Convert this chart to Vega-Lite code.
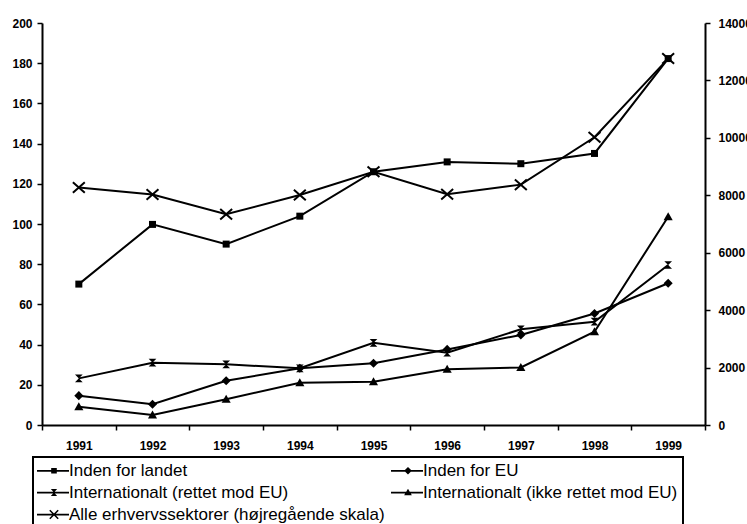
{
  "$schema": "https://vega.github.io/schema/vega-lite/v6.json",
  "width": 663,
  "height": 402,
  "autosize": {"type": "none"},
  "padding": {"left": 42, "top": 23, "right": 42, "bottom": 99},
  "background": "white",
  "config": {"view": {"stroke": null}, "font": "Liberation Sans", "legend": {"strokeWidth": 2}},
  "data": {"values": [
    {"year": "1991", "series": "Inden for landet", "value": 70.1},
    {"year": "1992", "series": "Inden for landet", "value": 99.8},
    {"year": "1993", "series": "Inden for landet", "value": 90.0},
    {"year": "1994", "series": "Inden for landet", "value": 103.9},
    {"year": "1995", "series": "Inden for landet", "value": 126.0},
    {"year": "1996", "series": "Inden for landet", "value": 130.9},
    {"year": "1997", "series": "Inden for landet", "value": 130.0},
    {"year": "1998", "series": "Inden for landet", "value": 135.1},
    {"year": "1999", "series": "Inden for landet", "value": 182.3},
    {"year": "1991", "series": "Inden for EU", "value": 14.6},
    {"year": "1992", "series": "Inden for EU", "value": 10.3},
    {"year": "1993", "series": "Inden for EU", "value": 22.0},
    {"year": "1994", "series": "Inden for EU", "value": 28.2},
    {"year": "1995", "series": "Inden for EU", "value": 30.7},
    {"year": "1996", "series": "Inden for EU", "value": 37.6},
    {"year": "1997", "series": "Inden for EU", "value": 44.8},
    {"year": "1998", "series": "Inden for EU", "value": 55.5},
    {"year": "1999", "series": "Inden for EU", "value": 70.5},
    {"year": "1991", "series": "Internationalt (rettet mod EU)", "value": 23.2},
    {"year": "1992", "series": "Internationalt (rettet mod EU)", "value": 31.0},
    {"year": "1993", "series": "Internationalt (rettet mod EU)", "value": 30.2},
    {"year": "1994", "series": "Internationalt (rettet mod EU)", "value": 28.2},
    {"year": "1995", "series": "Internationalt (rettet mod EU)", "value": 40.9},
    {"year": "1996", "series": "Internationalt (rettet mod EU)", "value": 36.0},
    {"year": "1997", "series": "Internationalt (rettet mod EU)", "value": 47.6},
    {"year": "1998", "series": "Internationalt (rettet mod EU)", "value": 51.4},
    {"year": "1999", "series": "Internationalt (rettet mod EU)", "value": 79.6},
    {"year": "1991", "series": "Internationalt (ikke rettet mod EU)", "value": 9.1},
    {"year": "1992", "series": "Internationalt (ikke rettet mod EU)", "value": 5.0},
    {"year": "1993", "series": "Internationalt (ikke rettet mod EU)", "value": 12.8},
    {"year": "1994", "series": "Internationalt (ikke rettet mod EU)", "value": 21.0},
    {"year": "1995", "series": "Internationalt (ikke rettet mod EU)", "value": 21.5},
    {"year": "1996", "series": "Internationalt (ikke rettet mod EU)", "value": 27.7},
    {"year": "1997", "series": "Internationalt (ikke rettet mod EU)", "value": 28.6},
    {"year": "1998", "series": "Internationalt (ikke rettet mod EU)", "value": 46.4},
    {"year": "1999", "series": "Internationalt (ikke rettet mod EU)", "value": 103.6},
    {"year": "1991", "series": "Alle erhvervssektorer (højregående skala)", "value": 8270},
    {"year": "1992", "series": "Alle erhvervssektorer (højregående skala)", "value": 8030},
    {"year": "1993", "series": "Alle erhvervssektorer (højregående skala)", "value": 7340},
    {"year": "1994", "series": "Alle erhvervssektorer (højregående skala)", "value": 8010},
    {"year": "1995", "series": "Alle erhvervssektorer (højregående skala)", "value": 8820},
    {"year": "1996", "series": "Alle erhvervssektorer (højregående skala)", "value": 8040},
    {"year": "1997", "series": "Alle erhvervssektorer (højregående skala)", "value": 8370},
    {"year": "1998", "series": "Alle erhvervssektorer (højregående skala)", "value": 10020},
    {"year": "1999", "series": "Alle erhvervssektorer (højregående skala)", "value": 12760}
  ]},
  "encoding": {
    "x": {
      "field": "year", "type": "ordinal", "bandPosition": 0.5,
      "scale": {"type": "band", "paddingInner": 0, "paddingOuter": 0},
      "axis": {"title": null, "tickBand": "extent", "labelAngle": 0, "domainColor": "black", "domainWidth": 2, "tickColor": "black", "tickWidth": 1.5, "tickSize": 5, "labelFont": "Liberation Sans", "labelFontSize": 12, "labelFontWeight": "bold", "labelColor": "black", "labelPadding": 10}
    }
  },
  "layer": [
    {
      "transform": [{"filter": "datum.series !== 'Alle erhvervssektorer (højregående skala)'"}],
      "encoding": {
        "y": {"field": "value", "type": "quantitative", "scale": {"domain": [0, 200], "nice": false},
          "axis": {"orient": "left", "title": null, "values": [0, 20, 40, 60, 80, 100, 120, 140, 160, 180, 200], "grid": false, "domainColor": "black", "domainWidth": 2, "tickColor": "black", "tickWidth": 1.5, "tickSize": 5, "labelFont": "Liberation Sans", "labelFontSize": 12, "labelFontWeight": "bold", "labelColor": "black", "labelPadding": 5, "labelFlush": false, "labelOverlap": false}}
      },
      "layer": [
        {"mark": {"type": "line", "color": "black", "strokeWidth": 2}, "encoding": {"detail": {"field": "series", "type": "nominal"}}},
        {"mark": {"type": "point", "filled": true, "color": "black", "opacity": 1, "size": 49, "strokeWidth": 1},
          "encoding": {"shape": {"field": "series", "type": "nominal",
            "scale": {"domain": ["Inden for landet", "Inden for EU", "Internationalt (rettet mod EU)", "Internationalt (ikke rettet mod EU)"],
              "range": ["M-1,-1L1,-1L1,1L-1,1Z", "M0,-1.3L1.3,0L0,1.3L-1.3,0Z", "M-1.1,-1.1L1.1,-1.1L-1.1,1.1L1.1,1.1Z", "M0,-1.3L1.3,1L-1.3,1Z"]},
            "legend": null}}}
      ]
    },
    {
      "transform": [{"filter": "datum.series === 'Alle erhvervssektorer (højregående skala)'"}],
      "encoding": {
        "y": {"field": "value", "type": "quantitative", "scale": {"domain": [0, 14000], "nice": false},
          "axis": {"orient": "right", "title": null, "values": [0, 2000, 4000, 6000, 8000, 10000, 12000, 14000], "format": "d", "grid": false, "domainColor": "black", "domainWidth": 2, "tickColor": "black", "tickWidth": 1.5, "tickSize": 5, "labelFont": "Liberation Sans", "labelFontSize": 12, "labelFontWeight": "bold", "labelColor": "black", "labelPadding": 8, "labelFlush": false, "labelOverlap": false}}
      },
      "layer": [
        {"mark": {"type": "line", "color": "black", "strokeWidth": 2}, "encoding": {}},
        {"mark": {"type": "point", "filled": false, "color": "black", "opacity": 1, "size": 49, "strokeWidth": 2, "shape": "M-1.7,-1.5L1.7,1.5M1.7,-1.5L-1.7,1.5"}, "encoding": {}}
      ]
    },
    {
      "mark": {"type": "point", "filled": true, "color": "black", "opacity": 0},
      "encoding": {
        "shape": {"field": "series", "type": "nominal",
          "scale": {"domain": ["Inden for landet", "Internationalt (rettet mod EU)", "Alle erhvervssektorer (højregående skala)", "Inden for EU", "Internationalt (ikke rettet mod EU)"],
            "range": [
              "M-2.71,-0.25L6.43,-0.25L6.43,0.25L-2.71,0.25ZM1.34,-0.8L2.94,-0.8L2.94,0.8L1.34,0.8Z",
              "M-2.71,-0.25L6.43,-0.25L6.43,0.25L-2.71,0.25ZM1.24,-1L3.04,-1L2.14,0ZM2.14,0L3.04,1L1.24,1Z",
              "M-2.71,-0.25L6.43,-0.25L6.43,0.25L-2.71,0.25ZM1.096,-1.356L3.496,1.044L3.184,1.356L0.784,-1.044ZM3.184,-1.356L3.496,-1.044L1.096,1.356L0.784,1.044Z",
              "M-2.71,-0.25L6.43,-0.25L6.43,0.25L-2.71,0.25ZM2.14,-1.1L3.24,0L2.14,1.1L1.04,0Z",
              "M-2.71,-0.25L6.43,-0.25L6.43,0.25L-2.71,0.25ZM2.14,-1.1L3.24,0.8L1.04,0.8Z"
            ]},
          "legend": {"orient": "none", "legendX": -9, "legendY": 434, "columns": 2, "title": null,
            "symbolSize": 49, "symbolOpacity": 1,
            "labelFont": "Liberation Sans", "labelFontSize": 17, "labelColor": "black", "labelOffset": 14, "labelLimit": 500,
            "columnPadding": 3, "rowPadding": 4, "padding": 5, "strokeColor": "black", "fillColor": "white"}}
      }
    }
  ],
  "resolve": {"scale": {"y": "independent", "shape": "independent"}}
}
